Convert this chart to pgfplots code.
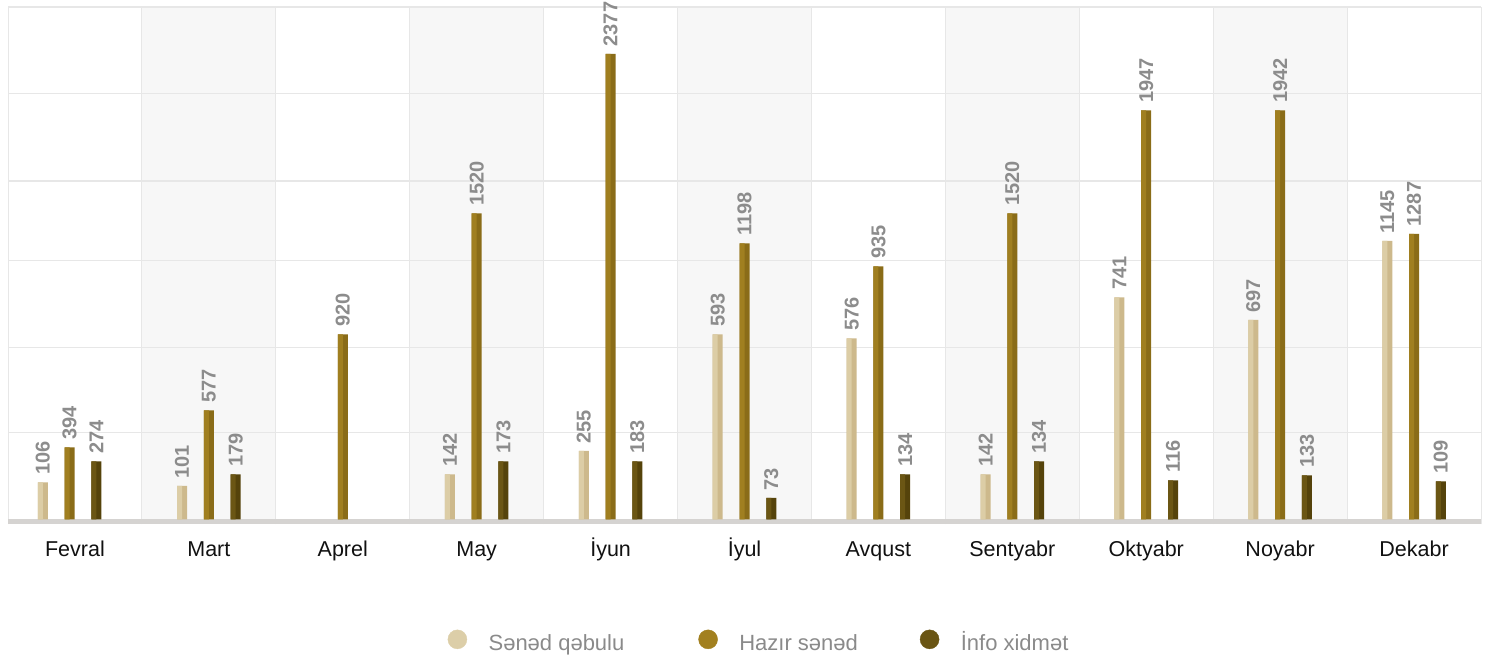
\documentclass[border=0pt]{standalone}
\usepackage{fontspec}
\setmainfont{Liberation Sans}
\usepackage{pgfplots}
\pgfplotsset{compat=1.18}
\definecolor{lightL}{HTML}{DCCDA6}
\definecolor{lightR}{HTML}{CDB98C}
\definecolor{goldL}{HTML}{A07F20}
\definecolor{goldR}{HTML}{8A6C18}
\definecolor{darkL}{HTML}{6B5614}
\definecolor{darkR}{HTML}{55430B}
\definecolor{labelgray}{HTML}{8C8C8C}
\definecolor{gridc}{HTML}{E7E7E7}
\definecolor{bandc}{HTML}{F7F7F7}
\definecolor{basec}{HTML}{D5D3D1}
\definecolor{ticktext}{HTML}{111111}
\definecolor{legtext}{HTML}{8A8A8A}
\definecolor{legL}{HTML}{DCCEA8}
\definecolor{legG}{HTML}{A2801F}
\definecolor{legD}{HTML}{6A5514}
\begin{document}
\begin{tikzpicture}
\begin{axis}[
  set layers,
  at={(8pt,136.5pt)}, anchor=south west,
  scale only axis, width=1473pt, height=517.5pt,
  xmin=-0.5, xmax=10.5, ymin=-5, ymax=512.5,
  ybar, bar width=0.0747,
  axis line style={draw=none},
  major tick length=0pt, minor tick length=0pt,
  xtick={0,1,2,3,4,5,6,7,8,9,10},
  xticklabels={Fevral,Mart,Aprel,May,İyun,İyul,Avqust,Sentyabr,Oktyabr,Noyabr,Dekabr},
  xticklabel style={anchor=base, yshift=-32.2pt, font=\fontsize{21.5}{26}\selectfont, text=ticktext},
  minor xtick={-0.5,0.5,1.5,2.5,3.5,4.5,5.5,6.5,7.5,8.5,9.5,10.5},
  xminorgrids=true,
  minor x grid style={draw=gridc, line width=1pt},
  ytick={87,172,259.2,338.5,426,512.5},
  yticklabels={},
  yticklabel style={inner sep=0pt},
  ymajorgrids=true,
  y grid style={draw=gridc, line width=1.5pt},
  clip=false,
  legend style={at={(0.29837,-0.2431)}, anchor=south west, draw=none, fill=none,
    inner sep=0pt, legend columns=3,
    font=\fontsize{22}{26}\selectfont, text=legtext,
    nodes={inner sep=0pt, text height=15.5pt, text depth=0pt, anchor=west},
    /tikz/every odd column/.append style={column sep=21.5pt},
    /tikz/column 2/.append style={column sep=74pt},
    /tikz/column 4/.append style={column sep=62pt}},
  legend cell align=left,
]
\begin{pgfonlayer}{axis background}
  \fill[bandc] (axis cs:0.5,-5) rectangle (axis cs:1.5,512.5);
  \fill[bandc] (axis cs:2.5,-5) rectangle (axis cs:3.5,512.5);
  \fill[bandc] (axis cs:4.5,-5) rectangle (axis cs:5.5,512.5);
  \fill[bandc] (axis cs:6.5,-5) rectangle (axis cs:7.5,512.5);
  \fill[bandc] (axis cs:8.5,-5) rectangle (axis cs:9.5,512.5);
\end{pgfonlayer}
\fill[basec] (axis cs:-0.5,-5) rectangle (axis cs:10.5,0);

% Sənəd qəbulu (bar heights as drawn, labels = printed values)
\addplot[fill=lightR, draw=none, bar shift=-0.2, forget plot,
  point meta=explicit symbolic, nodes near coords,
  every node near coord/.append style={rotate=90, anchor=west, font=\bfseries\fontsize{20}{24}\selectfont, text=labelgray, inner xsep=7.5pt, inner ysep=0pt}]
  coordinates {(-0.04,37)[106] (1,33.5)[101] (3,45)[142] (4,68.5)[255] (5,185)[593] (6,181)[576] (7,45)[142] (8,222)[741] (9,199.5)[697] (10,278.5)[1145]};
\addplot[fill=lightL, draw=none, bar shift=-0.21867, bar width=0.03734, forget plot]
  coordinates {(-0.04,37) (1,33.5) (3,45) (4,68.5) (5,185) (6,181) (7,45) (8,222) (9,199.5) (10,278.5)};

% Hazır sənəd
\addplot[fill=goldR, draw=none, bar shift=0, forget plot,
  point meta=explicit symbolic, nodes near coords,
  every node near coord/.append style={rotate=90, anchor=west, font=\bfseries\fontsize{20}{24}\selectfont, text=labelgray, inner xsep=7.5pt, inner ysep=0pt}]
  coordinates {(-0.04,72)[394] (1,109)[577] (2,185)[920] (3,306)[1520] (4,465.5)[2377] (5,276)[1198] (6,253)[935] (7,306)[1520] (8,409)[1947] (9,409)[1942] (10,285.5)[1287]};
\addplot[fill=goldL, draw=none, bar shift=-0.01867, bar width=0.03734, forget plot]
  coordinates {(-0.04,72) (1,109) (2,185) (3,306) (4,465.5) (5,276) (6,253) (7,306) (8,409) (9,409) (10,285.5)};

% İnfo xidmət
\addplot[fill=darkR, draw=none, bar shift=0.2, forget plot,
  point meta=explicit symbolic, nodes near coords,
  every node near coord/.append style={rotate=90, anchor=west, font=\bfseries\fontsize{20}{24}\selectfont, text=labelgray, inner xsep=7.5pt, inner ysep=0pt}]
  coordinates {(-0.04,58)[274] (1,45)[179] (3,58)[173] (4,58)[183] (5,21.5)[73] (6,45)[134] (7,58)[134] (8,39)[116] (9,44)[133] (10,38)[109]};
\addplot[fill=darkL, draw=none, bar shift=0.18133, bar width=0.03734, forget plot]
  coordinates {(-0.04,58) (1,45) (3,58) (4,58) (5,21.5) (6,45) (7,58) (8,39) (9,44) (10,38)};

\addlegendimage{legend image code/.code={\fill[legL] (0pt,3pt) circle (9.5pt);}}
\addlegendentry{Sənəd qəbulu}
\addlegendimage{legend image code/.code={\fill[legG] (0pt,3pt) circle (9.5pt);}}
\addlegendentry{Hazır sənəd}
\addlegendimage{legend image code/.code={\fill[legD] (0pt,3pt) circle (9.5pt);}}
\addlegendentry{İnfo xidmət}
\end{axis}
\pgfresetboundingbox
\path (0,0) rectangle (1493pt,661pt);
\end{tikzpicture}
\end{document}
